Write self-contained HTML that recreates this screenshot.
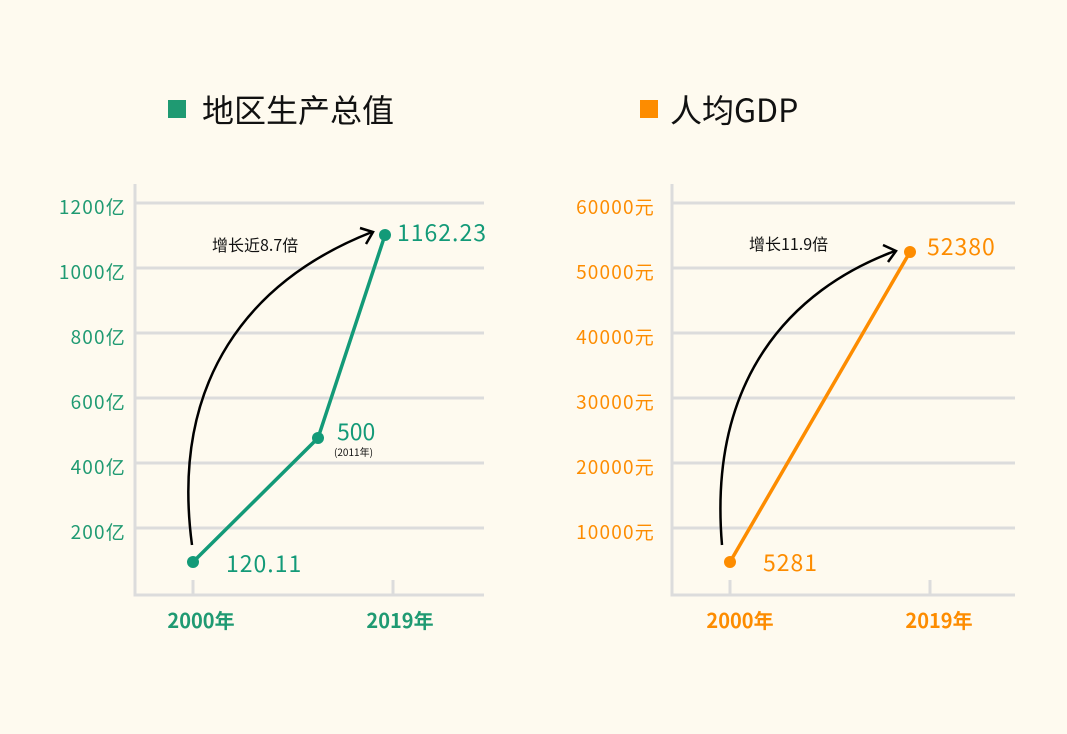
<!DOCTYPE html>
<html><head><meta charset="utf-8"><style>
body{margin:0;background:#fefaef;}
svg{display:block}
text{font-family:"Noto Sans CJK SC",sans-serif}
</style></head><body>
<svg width="1067" height="734" viewBox="0 0 1067 734">
<rect width="1067" height="734" fill="#fefaef"/>
<rect x="168" y="100" width="18" height="18" fill="#1f9a72"/>
<text x="202" y="122" font-size="32" fill="#111">地区生产总值</text>
<rect x="640" y="100" width="18" height="18" fill="#fd8c00"/>
<text x="670" y="122" font-size="32" fill="#111">人均GDP</text>
<g stroke="#dcdcdc" stroke-width="3" fill="none">
<path d="M135 184V595H484M136 203H484M136 268H484M136 333H484M136 398H484M136 463H484M136 528H484M193 580V595M393 580V595"/>
<path d="M672 184V595H1015M673 203H1015M673 268H1015M673 333H1015M673 398H1015M673 463H1015M673 528H1015M730 580V595M930 580V595"/>
</g>
<g font-size="19" fill="#1f9a72" text-anchor="end" letter-spacing="1.2">
<text x="126" y="214">1200亿</text><text x="126" y="279">1000亿</text><text x="126" y="344">800亿</text><text x="126" y="409">600亿</text><text x="126" y="474">400亿</text><text x="126" y="539">200亿</text>
</g>
<g font-size="19" fill="#fd8c00" text-anchor="end" letter-spacing="1.2">
<text x="655" y="214">60000元</text><text x="655" y="279">50000元</text><text x="655" y="344">40000元</text><text x="655" y="409">30000元</text><text x="655" y="474">20000元</text><text x="655" y="539">10000元</text>
</g>
<g font-size="20" font-weight="bold" text-anchor="middle">
<text x="201" y="628" fill="#1f9a72">2000年</text><text x="400" y="628" fill="#1f9a72">2019年</text>
<text x="740" y="628" fill="#fd8c00">2000年</text><text x="939" y="628" fill="#fd8c00">2019年</text>
</g>
<polyline points="193,562 318,438 385,235" fill="none" stroke="#139a78" stroke-width="3.5"/>
<g fill="#139a78"><circle cx="193" cy="562" r="6"/><circle cx="318" cy="438" r="6"/><circle cx="385" cy="235" r="6"/></g>
<polyline points="730,562 910,252" fill="none" stroke="#fd8c00" stroke-width="3.5"/>
<g fill="#fd8c00"><circle cx="730" cy="562" r="6"/><circle cx="910" cy="252" r="6"/></g>
<path d="M192 545C170 380 250 280 372 232M360 228L373 232L366 244" fill="none" stroke="#000" stroke-width="2.5"/>
<path d="M722 545C708 380 790 290 895 251M883 245L896 251L888 262" fill="none" stroke="#000" stroke-width="2.5"/>
<g font-size="23" fill="#139a78">
<text x="397" y="241" letter-spacing="1">1162.23</text><text x="337" y="440">500</text><text x="226" y="572" letter-spacing="1">120.11</text>
</g>
<text x="334" y="456" font-size="10" fill="#111">(2011年)</text>
<g font-size="23" fill="#fd8c00"><text x="927" y="255" letter-spacing="1">52380</text><text x="763" y="571" letter-spacing="1">5281</text></g>
<text x="212" y="251" font-size="16" fill="#111">增长近8.7倍</text>
<text x="749" y="250" font-size="16" fill="#111">增长11.9倍</text>
</svg>
</body></html>
